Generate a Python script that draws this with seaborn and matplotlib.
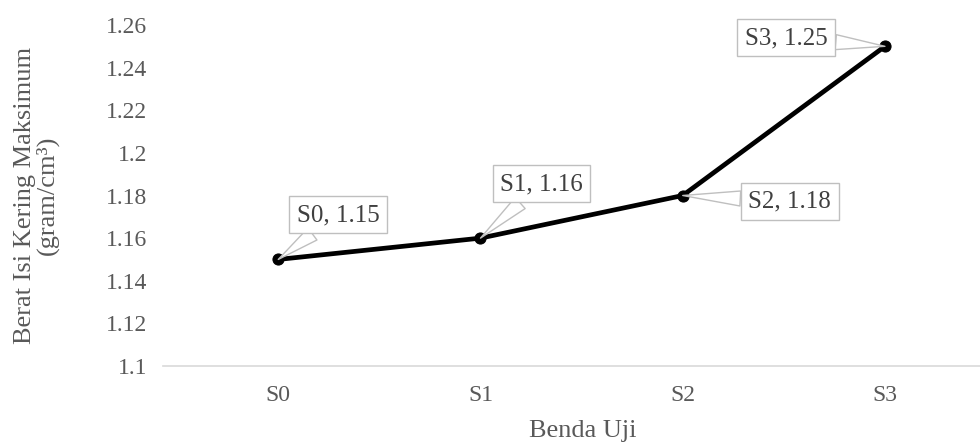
import matplotlib
matplotlib.use("Agg")
import matplotlib.pyplot as plt
import seaborn as sns
import pandas as pd

categories = ["S0", "S1", "S2", "S3"]
values = [1.15, 1.16, 1.18, 1.25]
yticks = [1.1, 1.12, 1.14, 1.16, 1.18, 1.2, 1.22, 1.24, 1.26]
ytick_labels = ["1.1", "1.12", "1.14", "1.16", "1.18", "1.2", "1.22", "1.24", "1.26"]

df = pd.DataFrame({"cat": categories, "val": values})

sns.set_theme(style="white")
plt.rcParams["font.family"] = ["Liberation Serif", "DejaVu Serif"]

fig = plt.figure(figsize=(9.8, 4.44), dpi=100)
ax = fig.add_axes([163/980, 1-366/444, 1-163/980, (366-25)/444])

sns.lineplot(data=df, x="cat", y="val", ax=ax, color="black", linewidth=3.4,
             marker="o", markersize=8, markeredgecolor="black", sort=False)

ax.set_ylim(1.1, 1.26)
ax.set_xlim(-0.57, 3.47)
ax.set_yticks(yticks)
ax.set_yticklabels(ytick_labels)
ax.tick_params(axis="both", length=0, labelsize=17, labelcolor="#595959")
ax.tick_params(axis="y", pad=11.5)
ax.tick_params(axis="x", pad=14)
for s in ["top", "right", "left"]:
    ax.spines[s].set_visible(False)
ax.spines["bottom"].set_color("#d9d9d9")
ax.spines["bottom"].set_linewidth(1.2)

ax.set_xlabel("Benda Uji", fontsize=19, color="#595959")
ax.xaxis.set_label_coords(0.514, -0.19)
ax.xaxis.label.set_va("center")
ax.set_ylabel("Berat Isi Kering Maksimum\n(gram/cm³)", fontsize=19, color="#595959",
              linespacing=0.95)
ax.yaxis.set_label_coords(-0.155, 0.5)
ax.yaxis.label.set_va("center")

offsets = [(43, 32), (44, 39), (77, -4), (-71, 6)]
for i, (c, v) in enumerate(zip(categories, values)):
    ax.annotate(f"{c}, {v:.2f}", xy=(i, v), xytext=offsets[i], textcoords="offset points",
                ha="center", va="center", fontsize=18, color="#404040",
                bbox=dict(boxstyle="square,pad=0.3", fc="white", ec="#bfbfbf", lw=1),
                arrowprops=dict(arrowstyle="wedge,tail_width=0.6", fc="white", ec="#bfbfbf",
                                lw=1, shrinkA=0, shrinkB=0),
                zorder=5)

fig.savefig("out.png", dpi=100)
